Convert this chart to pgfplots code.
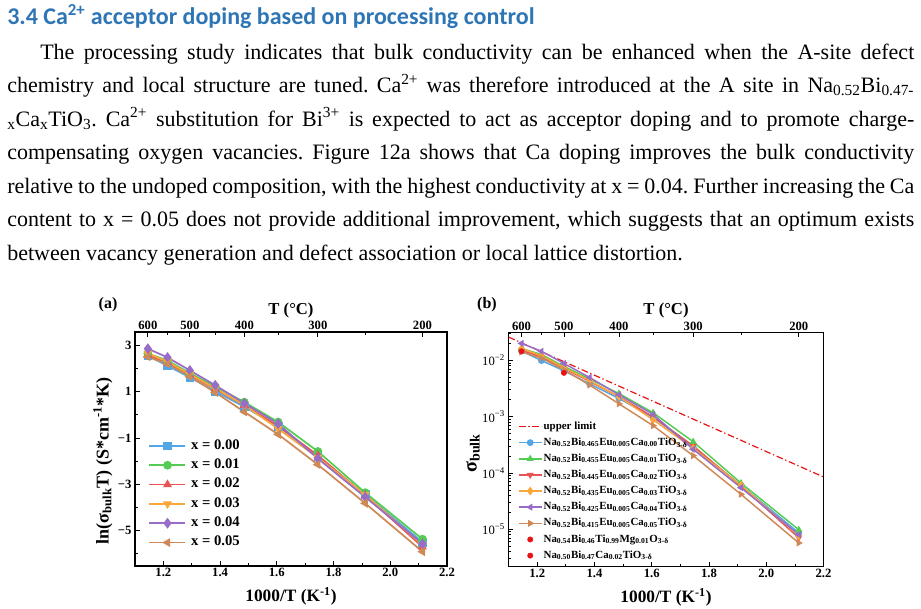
\documentclass[border=0pt]{standalone}
\usepackage{fontspec}
\setmainfont{Liberation Serif}
\newfontfamily\headfont{Carlito}
\usepackage{pgfplots}
\usepackage{pgfplotstable}
\pgfplotsset{compat=1.18}
\frenchspacing

\definecolor{headblue}{RGB}{46,117,182}
\definecolor{cA}{RGB}{84,166,228}
\definecolor{cB}{RGB}{84,204,84}
\definecolor{cC}{RGB}{232,84,84}
\definecolor{cD}{RGB}{250,166,58}
\definecolor{cE}{RGB}{151,109,199}
\definecolor{cF}{RGB}{207,137,87}
\definecolor{dotred}{RGB}{232,20,20}

\pgfplotstableread{
x s0 s1 s2 s3 s4 s5
1.14528 2.55 2.65 2.58 2.65 2.86 2.51
1.21485 2.12 2.35 2.25 2.30 2.48 2.20
1.29341 1.62 1.80 1.72 1.75 1.92 1.66
1.38284 1.02 1.22 1.12 1.15 1.28 0.97
1.48555 0.35 0.55 0.42 0.42 0.50 0.13
1.60475 -0.50 -0.31 -0.48 -0.60 -0.38 -0.84
1.74474 -1.80 -1.58 -1.75 -1.85 -1.89 -2.15
1.91150 -3.45 -3.36 -3.48 -3.45 -3.55 -3.82
2.11349 -5.50 -5.37 -5.70 -5.62 -5.57 -5.91
}\tabA

\pgfplotstableread{
x s0 s1 s2 s3 s4 s5
1.14528 0.01467 0.01621 0.01511 0.01621 0.02000 0.01409
1.21485 0.00992 0.01274 0.01153 0.01212 0.01451 0.01096
1.29341 0.00654 0.00782 0.00722 0.00744 0.00882 0.00680
1.38284 0.003836 0.004685 0.004238 0.004367 0.004974 0.003649
1.48555 0.002108 0.002575 0.002261 0.002261 0.002449 0.001692
1.60475 0.000973 0.001177 0.000993 0.000881 0.001098 0.000693
1.74474 0.0002884 0.0003594 0.0003032 0.0002744 0.0002636 0.0002032
1.91150 6.07e-5 6.64e-5 5.89e-5 6.07e-5 5.49e-5 4.19e-5
2.11349 8.64e-6 9.83e-6 7.07e-6 7.66e-6 8.05e-6 5.73e-6
}\tabB

\pgfplotsset{
 base/.style={
  scale only axis, width=234pt, height=175.5pt,
  xmin=1.1, xmax=2.2,
  axis line style={line width=0.9pt},
  tick align=inside,
  tick style={black, line width=0.6pt},
  major tick length=3.5pt, minor tick length=2pt,
  tick label style={font=\bfseries\fontsize{9.5}{11}\selectfont},
 },
 mainax/.style={base,
  xtick={1.2,1.4,1.6,1.8,2.0,2.2}, xticklabels={1.2,1.4,1.6,1.8,2.0,2.2},
  minor xtick={1.3,1.5,1.7,1.9,2.1},
  xtick pos=left, ytick pos=left,
  xticklabel style={inner sep=1.5pt},
  yticklabel style={inner sep=2.5pt},
  xlabel={1000/T (K\textsuperscript{-1})},
  xlabel style={font=\bfseries\fontsize{13}{15}\selectfont, at={(axis description cs:0.5,0)}, anchor=center, yshift=-23pt},
  legend cell align=left,
 },
 topax/.style={base,
  axis x line*=top, hide y axis, ymin=0, ymax=1,
  xtick={1.14528,1.29341,1.48555,1.74474,2.11349}, xticklabels={600,500,400,300,200},
  minor xtick={1.21485,1.38284,1.60475,1.91150},
  xticklabel style={inner sep=1.5pt},
  xlabel={T (°C)},
  xlabel style={font=\bfseries\fontsize{12.5}{14}\selectfont, at={(axis description cs:0.5,1)}, anchor=center, yshift=16.5pt},
 },
 serA/.style={line width=1.3pt, mark size=2.6pt, mark options={solid}},
 serB/.style={line width=1.1pt, mark size=2pt, mark options={solid}},
}

\begin{document}
\begin{tikzpicture}
\path[use as bounding box] (0pt,0pt) rectangle (690.75pt,-456pt);
\node[anchor=base west, inner sep=0pt, text=headblue, font=\headfont\bfseries\fontsize{18}{20}\selectfont] at (5.25pt,-18pt) {3.4 Ca\textsuperscript{2+} acceptor doping based on processing control};
\begin{scope}[every node/.style={anchor=base west, inner sep=0pt, font=\fontsize{16.5}{20}\selectfont}]
\node at (30pt,-44.25pt) {\makebox[655.5pt][s]{The processing study indicates that bulk conductivity can be enhanced when the A-site defect}};
\node at (5.25pt,-69.375pt) {\makebox[680.25pt][s]{chemistry and local structure are tuned. Ca\textsuperscript{2+} was therefore introduced at the A site in Na\textsubscript{0.52}Bi\textsubscript{0.47-}}};
\node at (5.25pt,-94.5pt) {\makebox[680.25pt][s]{\textsubscript{x}Ca\textsubscript{x}TiO\textsubscript{3}. Ca\textsuperscript{2+} substitution for Bi\textsuperscript{3+} is expected to act as acceptor doping and to promote charge-}};
\node at (5.25pt,-119.625pt) {\makebox[680.25pt][s]{compensating oxygen vacancies. Figure 12a shows that Ca doping improves the bulk conductivity}};
\node at (5.25pt,-144.75pt) {\makebox[680.25pt][s]{relative to the undoped composition, with the highest conductivity at x = 0.04. Further increasing the Ca}};
\node at (5.25pt,-169.875pt) {\makebox[680.25pt][s]{content to x = 0.05 does not provide additional improvement, which suggests that an optimum exists}};
\node at (5.25pt,-195pt) {between vacancy generation and defect association or local lattice distortion.};
\end{scope}
\node[font=\bfseries\fontsize{12}{14}\selectfont] at (81pt,-228.75pt) {(a)};
\node[font=\bfseries\fontsize{12}{14}\selectfont] at (365.25pt,-228.75pt) {(b)};

% ---------- panel (a)
\begin{axis}[topax, at={(101.25pt,-424.5pt)}, anchor=south west]
\end{axis}
\begin{axis}[mainax, at={(101.25pt,-424.5pt)}, anchor=south west,
  ymin=-6.53, ymax=3.58,
  ytick={-5,-3,-1,1,3}, yticklabels={−5,−3,−1,1,3},
  minor ytick={-6,-4,-2,0,2},
  ylabel={ln(σ\textsubscript{bulk}T) (S*cm\textsuperscript{-1}*K)},
  ylabel style={font=\bfseries\fontsize{13.5}{15}\selectfont, at={(axis description cs:-0.103,0.45)}, anchor=center},
  legend style={draw=none, fill=none, at={(0.03,0.56)}, anchor=north west,
    font=\bfseries\fontsize{11}{13}\selectfont, row sep=2.5pt, column sep=3pt,
    nodes={text height=8pt, text depth=3pt, inner sep=0.5pt}},
  legend image code/.code={\draw[mark repeat=2,mark phase=2,#1] plot coordinates {(0pt,0pt) (13.5pt,0pt) (27pt,0pt)};},
]
\addplot[serA, color=cA, mark=square*] table[x=x,y=s0]{\tabA};
\addlegendentry{x = 0.00}
\addplot[serA, color=cB, mark=*] table[x=x,y=s1]{\tabA};
\addlegendentry{x = 0.01}
\addplot[serA, color=cC, mark=triangle*] table[x=x,y=s2]{\tabA};
\addlegendentry{x = 0.02}
\addplot[serA, color=cD, mark=triangle*, mark options={rotate=180}] table[x=x,y=s3]{\tabA};
\addlegendentry{x = 0.03}
\addplot[serA, color=cE, mark=diamond*, mark size=3pt] table[x=x,y=s4]{\tabA};
\addlegendentry{x = 0.04}
\addplot[serA, color=cF, mark=triangle*, mark options={rotate=90}] table[x=x,y=s5]{\tabA};
\addlegendentry{x = 0.05}
\end{axis}

% ---------- panel (b)
\begin{axis}[topax, at={(381.4pt,-425pt)}, anchor=south west, width=236.25pt]
\end{axis}
\begin{axis}[mainax, at={(381.4pt,-425pt)}, anchor=south west, width=236.25pt,
  ymode=log, ymin=2.17e-6, ymax=0.031,
  ytick={1e-5,1e-4,1e-3,1e-2},
  yticklabels={10\textsuperscript{−5},10\textsuperscript{−4},10\textsuperscript{−3},10\textsuperscript{−2}},
  yticklabel style={font=\fontsize{9.5}{11}\selectfont},
  minor ytick={3e-6,4e-6,5e-6,6e-6,7e-6,8e-6,9e-6,2e-5,3e-5,4e-5,5e-5,6e-5,7e-5,8e-5,9e-5,2e-4,3e-4,4e-4,5e-4,6e-4,7e-4,8e-4,9e-4,2e-3,3e-3,4e-3,5e-3,6e-3,7e-3,8e-3,9e-3,2e-2,3e-2},
  ylabel={σ\textsubscript{bulk}},
  ylabel style={font=\bfseries\fontsize{15}{17}\selectfont, at={(axis description cs:-0.113,0.485)}, anchor=center},
  legend style={draw=none, fill=none, at={(0.017,0.64)}, anchor=north west,
    font=\bfseries\fontsize{8.2}{9.5}\selectfont, row sep=2.1pt, column sep=0.5pt,
    nodes={text height=6.5pt, text depth=2.5pt, inner sep=0.5pt}},
  legend image code/.code={\draw[mark repeat=2,mark phase=2,#1] plot coordinates {(0pt,0pt) (8.5pt,0pt) (17pt,0pt)};},
]
\addplot[color=dotred, line width=0.9pt, dash pattern=on 5pt off 2pt on 1pt off 2pt] coordinates {(1.1,0.0259) (2.2,8.5e-5)};
\addlegendentry{upper limit}
\addplot[serB, color=cA, mark=*] table[x=x,y=s0]{\tabB};
\addlegendentry{Na\textsubscript{0.52}Bi\textsubscript{0.465}Eu\textsubscript{0.005}Ca\textsubscript{0.00}TiO\textsubscript{3-δ}}
\addplot[serB, color=cB, mark=triangle*] table[x=x,y=s1]{\tabB};
\addlegendentry{Na\textsubscript{0.52}Bi\textsubscript{0.455}Eu\textsubscript{0.005}Ca\textsubscript{0.01}TiO\textsubscript{3-δ}}
\addplot[serB, color=cC, mark=triangle*, mark options={rotate=180}] table[x=x,y=s2]{\tabB};
\addlegendentry{Na\textsubscript{0.52}Bi\textsubscript{0.445}Eu\textsubscript{0.005}Ca\textsubscript{0.02}TiO\textsubscript{3-δ}}
\addplot[serB, color=cD, mark=diamond*, mark size=2.4pt] table[x=x,y=s3]{\tabB};
\addlegendentry{Na\textsubscript{0.52}Bi\textsubscript{0.435}Eu\textsubscript{0.005}Ca\textsubscript{0.03}TiO\textsubscript{3-δ}}
\addplot[serB, color=cE, mark=triangle*, mark options={rotate=90}] table[x=x,y=s4]{\tabB};
\addlegendentry{Na\textsubscript{0.52}Bi\textsubscript{0.425}Eu\textsubscript{0.005}Ca\textsubscript{0.04}TiO\textsubscript{3-δ}}
\addplot[serB, color=cF, mark=triangle*, mark options={rotate=-90}] table[x=x,y=s5]{\tabB};
\addlegendentry{Na\textsubscript{0.52}Bi\textsubscript{0.415}Eu\textsubscript{0.005}Ca\textsubscript{0.05}TiO\textsubscript{3-δ}}
\addplot[only marks, color=dotred, mark=*, mark size=2pt] coordinates {(1.14528,0.0145)};
\addlegendentry{Na\textsubscript{0.54}Bi\textsubscript{0.46}Ti\textsubscript{0.99}Mg\textsubscript{0.01}O\textsubscript{3-δ}}
\addplot[only marks, color=dotred, mark=*, mark size=2pt] coordinates {(1.29341,0.0060)};
\addlegendentry{Na\textsubscript{0.50}Bi\textsubscript{0.47}Ca\textsubscript{0.02}TiO\textsubscript{3-δ}}
\end{axis}
\end{tikzpicture}
\end{document}
